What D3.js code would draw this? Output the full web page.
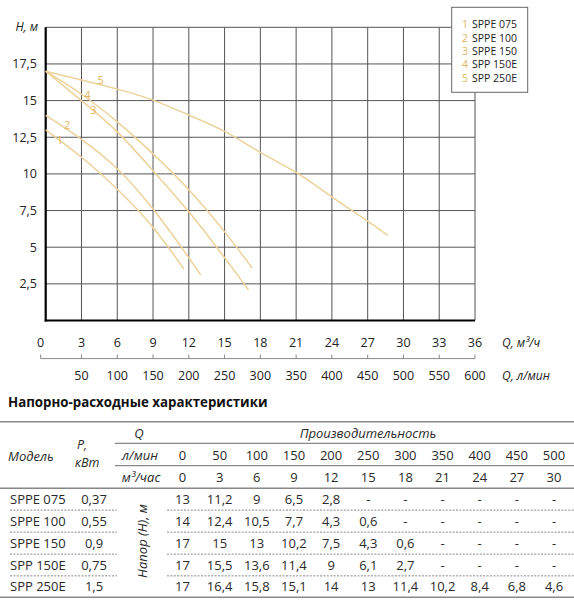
<!DOCTYPE html>
<html>
<head>
<meta charset="utf-8">
<script src="https://cdn.jsdelivr.net/npm/d3@7"></script>
<style>
  body { margin: 0; background: #fff; }
  svg { display: block; font-family: "Open Sans", sans-serif; }
</style>
</head>
<body>
<svg id="chart" width="574" height="600"></svg>
<script>
"use strict"

// data
const models = ["SPPE 075", "SPPE 100", "SPPE 150", "SPP 150E", "SPP 250E"];
const power = ["0,37", "0,55", "0,9", "0,75", "1,5"];
const flowLmin = [0, 50, 100, 150, 200, 250, 300, 350, 400, 450, 500];
const flowM3h = [0, 3, 6, 9, 12, 15, 18, 21, 24, 27, 30];
// head, m (null = "-")
const head1 = [13, 11.2, 9, 6.5, 2.8, null, null, null, null, null, null];
const head2 = [14, 12.4, 10.5, 7.7, 4.3, 0.6, null, null, null, null, null];
const head3 = [17, 15, 13, 10.2, 7.5, 4.3, 0.6, null, null, null, null];
const head4 = [17, 15.5, 13.6, 11.4, 9, 6.1, 2.7, null, null, null, null];
const head5 = [17, 16.4, 15.8, 15.1, 14, 13, 11.4, 10.2, 8.4, 6.8, 4.6];
const heads = [head1, head2, head3, head4, head5];
// where each drawn curve stops on the chart [Q m3/h, H m]
const curveEnd = [[11.6, 3.5], [13, 3.1], [17, 2.1], [17.3, 3.6], [28.7, 5.8]];

const qTicks = [0, 3, 6, 9, 12, 15, 18, 21, 24, 27, 30, 33, 36];
const lminTicks = [0, 50, 100, 150, 200, 250, 300, 350, 400, 450, 500, 550, 600];
const hTicks = [2.5, 5, 7.5, 10, 12.5, 15, 17.5];

// styles
const curveColor = "#ecd29a";
const labelColor = "#e2b560";
const gridColor = "#555";
const textColor = "#222";

let svg = d3.select("#chart");

let x = d3.scaleLinear().domain([0, 36]).range([45.7, 475]);
let y = d3.scaleLinear().domain([0, 20]).range([320.5, 27.3]);

// ---- grid ----
let grid = svg.append("g");
grid.selectAll(".vg")
    .data(d3.range(3, 37, 3))
    .enter().append("line")
    .attr("x1", d => x(d)).attr("x2", d => x(d))
    .attr("y1", y(20)).attr("y2", y(0))
    .attr("stroke", gridColor).attr("stroke-width", 1);
grid.selectAll(".hg")
    .data(d3.range(2.5, 20.1, 2.5))
    .enter().append("line")
    .attr("x1", x(0)).attr("x2", x(36))
    .attr("y1", d => y(d)).attr("y2", d => y(d))
    .attr("stroke", gridColor).attr("stroke-width", 1);

// main axes (thick)
svg.append("line")
    .attr("x1", x(0)).attr("x2", x(0))
    .attr("y1", y(20)).attr("y2", y(0) + 1)
    .attr("stroke", "#000").attr("stroke-width", 2.2);
svg.append("line")
    .attr("x1", x(0) - 1).attr("x2", x(36))
    .attr("y1", y(0)).attr("y2", y(0))
    .attr("stroke", "#000").attr("stroke-width", 2.2);

// y tick labels
svg.selectAll(".ylab")
    .data(hTicks)
    .enter().append("text")
    .attr("x", 37).attr("y", d => y(d) + 4.5)
    .attr("text-anchor", "end")
    .attr("font-size", 12.5).attr("fill", textColor)
    .text(d => String(d).replace(".", ","));
svg.append("text")
    .attr("x", 38).attr("y", 31)
    .attr("text-anchor", "end")
    .attr("font-size", 12).attr("font-style", "italic").attr("fill", textColor)
    .text("H, м");

// ---- curves ----
let line = d3.line()
    .x(d => x(d[0]))
    .y(d => y(d[1]))
    .curve(d3.curveBasis);

let series = heads.map(function (h, i) {
    let pts = [];
    h.forEach(function (v, j) {
        if (v !== null && flowM3h[j] < curveEnd[i][0]) pts.push([flowM3h[j], v]);
    });
    pts.push(curveEnd[i]);
    return pts;
});

svg.append("g").selectAll("path")
    .data(series)
    .enter().append("path")
    .attr("d", line)
    .attr("fill", "none")
    .attr("stroke", curveColor)
    .attr("stroke-width", 1.5);

// curve numbers, placed at a flow value along each curve
const labelQ = [1.2, 1.8, 4.0, 3.5, 4.6];
const labelDy = [0, -4, 0, -3, -5];

function headAt(pts, q) {
    for (let k = 0; k < pts.length - 1; k++) {
        if (q >= pts[k][0] && q <= pts[k + 1][0]) {
            let t = (q - pts[k][0]) / (pts[k + 1][0] - pts[k][0]);
            return pts[k][1] + t * (pts[k + 1][1] - pts[k][1]);
        }
    }
    return pts[0][1];
}

svg.append("g").selectAll("text")
    .data(series)
    .enter().append("text")
    .attr("x", (d, i) => x(labelQ[i]))
    .attr("y", (d, i) => y(headAt(d, labelQ[i])) + labelDy[i] + 4)
    .attr("text-anchor", "middle")
    .attr("font-size", 11).attr("fill", labelColor)
    .text((d, i) => i + 1);

// ---- legend ----
let legend = svg.append("g");
legend.append("rect")
    .attr("x", 451.7).attr("y", 7.3)
    .attr("width", 76).attr("height", 85)
    .attr("fill", "#fff").attr("stroke", "#666").attr("stroke-width", 1);
let item = legend.selectAll(".item")
    .data(models)
    .enter().append("g")
    .attr("transform", (d, i) => "translate(462," + (28.3 + i * 13.3) + ")");
item.append("text")
    .attr("font-size", 10.5).attr("fill", labelColor)
    .text((d, i) => i + 1);
item.append("text")
    .attr("x", 10)
    .attr("font-size", 10.5).attr("fill", textColor)
    .text(d => d);

// ---- bottom scales ----
svg.selectAll(".qlab")
    .data(qTicks)
    .enter().append("text")
    .attr("x", d => d === 0 ? x(d) - 5 : x(d))
    .attr("y", 347)
    .attr("text-anchor", "middle")
    .attr("font-size", 12.5).attr("fill", textColor)
    .text(d => d);
svg.append("text")
    .attr("x", 502).attr("y", 347)
    .attr("font-size", 12).attr("font-style", "italic").attr("fill", textColor)
    .text("Q, м³/ч");

// second scale in l/min (50 l/min = 3 m3/h)
let xl = d3.scaleLinear().domain([0, 600]).range([x(0), x(36)]);
let lpos = d => d === 0 ? xl(d) - 5 : xl(d);
svg.append("line")
    .attr("x1", lpos(0)).attr("x2", xl(600))
    .attr("y1", 358.6).attr("y2", 358.6)
    .attr("stroke", "#888").attr("stroke-width", 1);
svg.selectAll(".ltick")
    .data(lminTicks)
    .enter().append("line")
    .attr("x1", lpos).attr("x2", lpos)
    .attr("y1", 354.6).attr("y2", 358.6)
    .attr("stroke", "#888").attr("stroke-width", 1);
svg.selectAll(".llab")
    .data(lminTicks.filter(d => d > 0))
    .enter().append("text")
    .attr("x", d => xl(d)).attr("y", 380)
    .attr("text-anchor", "middle")
    .attr("font-size", 12.5).attr("fill", textColor)
    .text(d => d);
svg.append("text")
    .attr("x", 502).attr("y", 380)
    .attr("font-size", 12).attr("font-style", "italic").attr("fill", textColor)
    .text("Q, л/мин");

// ---- table ----
svg.append("text")
    .attr("x", 8).attr("y", 407)
    .attr("font-size", 13.3).attr("font-weight", 700).attr("fill", "#111")
    .text("Напорно-расходные характеристики");

let tbl = svg.append("g").attr("font-size", 13).attr("fill", "#2a2a2a");
let col = d3.scalePoint().domain(d3.range(flowM3h.length)).range([182.5, 554]);
const rowY = [499.3, 521, 543.3, 565, 586.7];
const lineCol = "#888";

function hline(x1, x2, yy, w, dash) {
    tbl.append("line")
        .attr("x1", x1).attr("x2", x2).attr("y1", yy).attr("y2", yy)
        .attr("stroke", dash ? "#888" : lineCol).attr("stroke-width", w)
        .attr("stroke-dasharray", dash ? "2,1.4" : null);
}
hline(0, 574, 421.7, 1.4);
hline(115, 574, 443.3, 1.2);
hline(115, 574, 465.7, 1.2);
hline(0, 574, 488.3, 1.4);
hline(0, 574, 597.3, 1.4);
rowY.slice(0, -1).forEach(function (ry, i) {
    let yy = (ry + rowY[i + 1]) / 2;
    hline(10, 117, yy, 1, true);
    hline(167, 574, yy, 1, true);
});

// header
tbl.append("text").attr("x", 8).attr("y", 461)
    .attr("font-style", "italic").text("Модель");
tbl.append("text").attr("x", 77).attr("y", 449)
    .attr("font-size", 12.5).attr("font-style", "italic").text("P,");
tbl.append("text").attr("x", 75).attr("y", 466.5)
    .attr("font-size", 12.5).attr("font-style", "italic").text("кВт");
tbl.append("text").attr("x", 139).attr("y", 437.5)
    .attr("text-anchor", "middle").attr("font-style", "italic").text("Q");
tbl.append("text").attr("x", 368).attr("y", 437.5)
    .attr("text-anchor", "middle").attr("font-style", "italic").text("Производительность");
tbl.append("text").attr("x", 140).attr("y", 460.2)
    .attr("text-anchor", "middle").attr("font-style", "italic").text("л/мин");
tbl.append("text").attr("x", 141).attr("y", 482)
    .attr("text-anchor", "middle").attr("font-style", "italic").text("м³/час");
tbl.append("text")
    .attr("transform", "translate(147,541) rotate(-90)")
    .attr("text-anchor", "middle").attr("font-style", "italic")
    .text("Напор (H), м");

tbl.selectAll(".lmin")
    .data(flowLmin)
    .enter().append("text")
    .attr("x", (d, i) => col(i)).attr("y", 460.2)
    .attr("text-anchor", "middle").text(d => d);
tbl.selectAll(".m3h")
    .data(flowM3h)
    .enter().append("text")
    .attr("x", (d, i) => col(i)).attr("y", 482)
    .attr("text-anchor", "middle").text(d => d);

// body
let row = tbl.selectAll(".row")
    .data(models)
    .enter().append("g")
    .attr("transform", (d, i) => "translate(0," + (rowY[i] + 4.5) + ")");
row.append("text").attr("x", 10).text(d => d);
row.append("text").attr("x", 94).attr("text-anchor", "middle")
    .text((d, i) => power[i]);
row.selectAll(".v")
    .data((d, i) => heads[i])
    .enter().append("text")
    .attr("x", (d, j) => col(j))
    .attr("text-anchor", "middle")
    .text(d => d === null ? "-" : String(d).replace(".", ","));
</script>
</body>
</html>
